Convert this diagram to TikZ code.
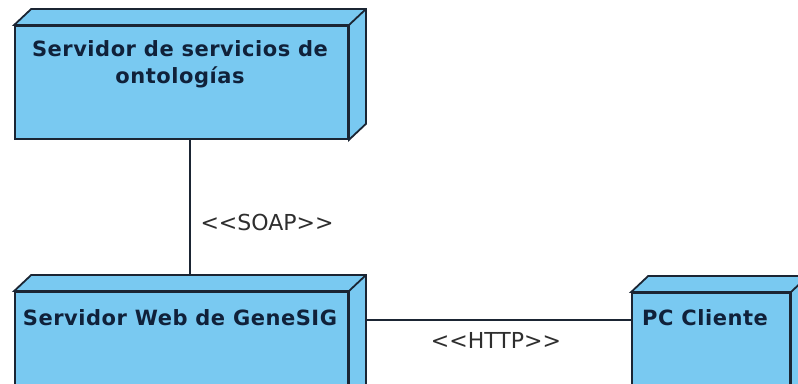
\documentclass[tikz,border=0pt]{standalone}
\usepackage{fontspec}
\setmainfont{DejaVu Sans}
\newfontfamily\titlefont[LetterSpace=2.5]{DejaVu Sans}
\usetikzlibrary{calc}
\definecolor{nodefill}{HTML}{79C9F1}
\definecolor{nodeedge}{HTML}{1B2533}
\definecolor{nodetext}{HTML}{10213A}
\definecolor{labeltext}{HTML}{2E2E2E}
\tikzset{
  x=1pt, y=1pt,
  front/.style={draw=nodeedge, fill=nodefill, line width=1.8pt, inner sep=0pt},
  depth/.style={draw=nodeedge, fill=nodefill, line width=1.8pt, line join=miter},
  title/.style={font=\titlefont\bfseries\fontsize{21}{27}\selectfont, text=nodetext, align=center, inner sep=0pt},
  link/.style={draw=nodeedge, line width=1.6pt},
  stereo/.style={font=\fontsize{22}{24}\selectfont, text=labeltext, inner sep=0pt}
}
% top and side faces of a node box
\newcommand\boxdepth[1]{%
  \draw[depth] (#1.north west) -- ++(17,16) -- ($(#1.north east)+(17,16)$)
    -- ($(#1.south east)+(17,16)$) -- (#1.south east) -- (#1.north east) -- cycle;
  \draw[depth] (#1.north east) -- ++(17,16);
}
\begin{document}
\begin{tikzpicture}
\useasboundingbox (0,0) rectangle (798,383);
\clip (0,0) rectangle (798,383);
\fill[white] (0,0) rectangle (798,383);

% node boxes
\node[front, minimum width=333pt, minimum height=113pt] (onto) at (181.5,300.5) {};
\boxdepth{onto}
\node[front, minimum width=333pt, minimum height=108pt] (web) at (181.5,37) {};
\boxdepth{web}
\node[front, minimum width=158pt, minimum height=107pt] (pc) at (711,36.5) {};
\boxdepth{pc}

% titles
\node[title] (ontot) at (180,318.5) {Servidor de servicios de\\ontologías};
\node[title] (webt) at (180,65) {Servidor Web de GeneSIG};
\node[title] (pct) at (705,65) {PC Cliente};

% connectors
\coordinate (hy) at (0,63);
\draw[link] ([xshift=8.5pt]onto.south) -- ([xshift=8.5pt,yshift=16pt]web.north);
\draw[link] ([xshift=16pt]web.east |- hy) -- (pc.west |- hy);

% stereotypes
\node[stereo] (soap) at (267,161) {{<}{<}SOAP{>}{>}};
\node[stereo] (http) at (496,43) {{<}{<}HTTP{>}{>}};
\end{tikzpicture}
\end{document}
